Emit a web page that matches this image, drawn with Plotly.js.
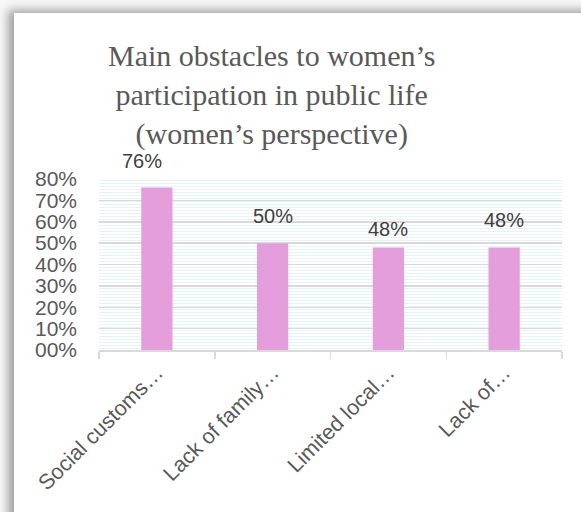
<!DOCTYPE html>
<html>
<head>
<meta charset="utf-8">
<script src="https://cdn.plot.ly/plotly-3.0.1.min.js"></script>
<style>
  html, body { margin: 0; padding: 0; width: 581px; height: 512px; overflow: hidden; background: #f7f7f7; }
  #card { position: absolute; left: 14px; top: 13px; width: 620px; height: 540px; background: #ffffff;
          box-shadow: -6px -3px 9px rgba(0,0,0,0.35); }
  #chart { position: absolute; left: 0; top: 0; width: 581px; height: 512px; }
</style>
</head>
<body>
<div id="card"></div>
<div id="chart"></div>
<script>
// ---- data ----
const categories = ["Social customs…", "Lack of family…", "Limited local…", "Lack of…"];
const values = [0.76, 0.50, 0.48, 0.48];
const valueLabels = ["76%", "50%", "48%", "48%"];
const yTickValues = [0, 0.1, 0.2, 0.3, 0.4, 0.5, 0.6, 0.7, 0.8];
const yTickLabels = ["00%", "10%", "20%", "30%", "40%", "50%", "60%", "70%", "80%"];

// label placement tweaks (style only)
const labelXShift = [-15, 0, 0, 0];
const labelYShift = [14, 14, 5, 14];

const trace = {
  type: "bar",
  x: categories,
  y: values,
  marker: { color: "#E49EDC" },
  hoverinfo: "none"
};

const annotations = categories.map((c, i) => ({
  x: c, y: values[i], xref: "x", yref: "y",
  text: valueLabels[i], showarrow: false,
  xanchor: "center", yanchor: "bottom",
  xshift: labelXShift[i], yshift: labelYShift[i],
  font: { family: "Liberation Sans, Arial, sans-serif", size: 20, color: "#404040" }
}));

// faint striped plot-area fill (decoration)
const shapes = [];
const nStripes = 57;
for (let i = 0; i < nStripes; i++) {
  const yy = (i + 0.5) / nStripes;
  shapes.push({ type: "line", xref: "paper", yref: "paper", x0: 0, x1: 1, y0: yy, y1: yy,
    line: { color: "#E8F2FA", width: 1 }, layer: "below" });
}

annotations.push({
  text: "Main obstacles to women’s<br>participation in public life<br>(women’s perspective)",
  xref: "paper", yref: "paper", x: (271 - 99) / 463, y: 1 + (178.5 - 36) / 171.5,
  xanchor: "center", yanchor: "top", showarrow: false, align: "center",
  font: { family: "Liberation Serif, 'DejaVu Serif', serif", size: 30, color: "#595959" }
});

const layout = {
  width: 581, height: 512,
  margin: { l: 99, r: 19, t: 178.5, b: 162 },
  paper_bgcolor: "rgba(0,0,0,0)",
  plot_bgcolor: "rgba(0,0,0,0)",
  showlegend: false,
  bargap: 0.73,
  xaxis: {
    type: "category",
    tickson: "boundaries",
    ticks: "outside", ticklen: 7, tickcolor: "#D9D9D9", tickwidth: 1.5,
    showline: true, linecolor: "#D9D9D9", linewidth: 1.5,
    showgrid: false,
    tickangle: -45,
    tickfont: { family: "Liberation Sans, Arial, sans-serif", size: 21.5, color: "#595959" }
  },
  yaxis: {
    range: [0, 0.8],
    tickvals: yTickValues, ticktext: yTickLabels,
    showgrid: true, gridcolor: "#D9D9D9", gridwidth: 1.5,
    zeroline: false, showline: false, ticks: "",
    ticklabelstandoff: 21,
    tickfont: { family: "Liberation Sans, Arial, sans-serif", size: 21, color: "#595959" }
  },
  shapes: shapes,
  annotations: annotations
};

Plotly.newPlot("chart", [trace], layout, { staticPlot: true, displayModeBar: false });
</script>
</body>
</html>
